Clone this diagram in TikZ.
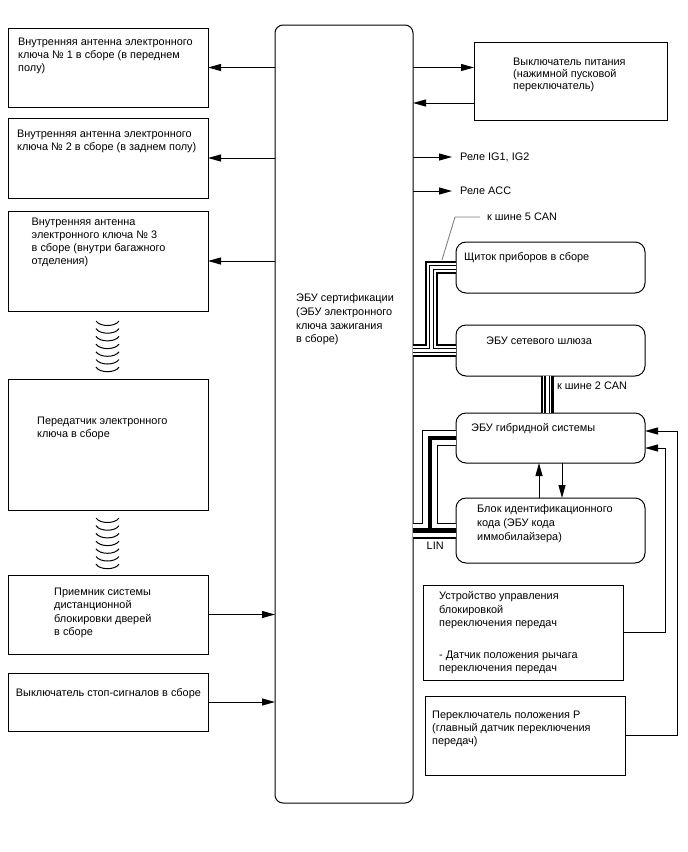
\documentclass[tikz,border=0pt]{standalone}
\usepackage{fontspec}
\setmainfont{Liberation Sans}
\usetikzlibrary{arrows.meta}

\tikzset{
  box/.style={draw, line width=1pt, inner sep=0, outer sep=0, anchor=north west},
  rbox/.style={box, rounded corners=10pt},
  txt/.style={inner sep=0, anchor=north west, align=left},
  lbl/.style={inner sep=0, anchor=west},
  arr/.style={line width=1pt, -{Triangle[length=13pt,width=7pt]}},
  leader/.style={gray, line width=0.9pt},
  canA/.style={line width=13pt},
  canB/.style={line width=8.5pt, white},
  canC/.style={line width=5.5pt},
  canD/.style={line width=3pt, white},
  linA/.style={line width=16pt},
  linB/.style={line width=13.5pt, white},
  linC/.style={line width=4.5pt}
}

\begin{document}
\begin{tikzpicture}[x=1pt,y=-1pt,font=\fontsize{10.9}{13.3}\selectfont]
\useasboundingbox (0,0) rectangle (688,852);

% left column
\node[box, minimum width=200pt, minimum height=79pt] (ant1) at (8,28) {};
\node[box, minimum width=200pt, minimum height=80pt] (ant2) at (8,118) {};
\node[box, minimum width=200pt, minimum height=100pt] (ant3) at (8,211) {};
\node[box, minimum width=200pt, minimum height=131pt] (tx) at (8,379) {};
\node[box, minimum width=200pt, minimum height=79pt] (rcv) at (8,575) {};
\node[box, minimum width=200pt, minimum height=58pt] (stp) at (8,673) {};

\node[txt] (ant1t) at (18,37.3) {Внутренняя антенна электронного\\ключа № 1 в сборе (в переднем\\полу)};
\node[txt] (ant2t) at (17,129.6) {Внутренняя антенна электронного\\ключа № 2 в сборе (в заднем полу)};
\node[txt] (ant3t) at (31.5,217.3) {Внутренняя антенна\\электронного ключа № 3\\в сборе (внутри багажного\\отделения)};
\node[txt] (txt) at (37,416.6) {Передатчик электронного\\ключа в сборе};
\node[txt] (rcvt) at (54,587.9) {Приемник системы\\дистанционной\\блокировки дверей\\в сборе};
\node[txt] (stpt) at (15.7,687.9) {Выключатель стоп-сигналов в сборе};

% radio links
\foreach \i in {0,...,6} {
  \draw[line width=1pt] (96,{321+7.7*\i}) .. controls (100,{327+7.7*\i}) and (115,{327+7.7*\i}) .. (119,{321+7.7*\i});
  \draw[line width=1pt] (96,{518+7.7*\i}) .. controls (100,{524+7.7*\i}) and (115,{524+7.7*\i}) .. (119,{518+7.7*\i});
}

% certification ECU
\node[box, rounded corners=8pt, minimum width=138pt, minimum height=778pt] (ecu) at (275,25) {};
\node[txt, font=\fontsize{10.9}{13.7}\selectfont] (ecut) at (296,293.6) {ЭБУ сертификации\\(ЭБУ электронного\\ключа зажигания\\в сборе)};

% right column
\node[box, minimum width=193pt, minimum height=78pt] (pwr) at (474,42) {};
\node[txt, font=\fontsize{10.9}{12.2}\selectfont] (pwrt) at (513,57.3) {Выключатель питания\\(нажимной пусковой\\переключатель)};
\node[lbl] (rel1) at (460,157) {Реле IG1, IG2};
\node[lbl] (rel2) at (460,191) {Реле ACC};
\node[lbl] (can5) at (487,217) {к шине 5 CAN};
\node[rbox, minimum width=189pt, minimum height=51pt] (cl) at (456,242) {};
\node[txt] (clt) at (464,252.6) {Щиток приборов в сборе};
\node[rbox, minimum width=189pt, minimum height=51pt] (gw) at (456,325) {};
\node[txt] (gwt) at (486,336.6) {ЭБУ сетевого шлюза};
\node[lbl] (can2) at (557,386) {к шине 2 CAN};
\node[rbox, minimum width=189pt, minimum height=50pt] (hyb) at (456,413) {};
\node[txt] (hybt) at (471,423.6) {ЭБУ гибридной системы};
\node[rbox, minimum width=189pt, minimum height=65pt] (imm) at (456,498) {};
\node[txt, font=\fontsize{10.9}{14}\selectfont] (immt) at (477,504.6) {Блок идентификационного\\кода (ЭБУ кода\\иммобилайзера)};
\node[lbl] (lin) at (426.5,546) {LIN};
\node[box, minimum width=200pt, minimum height=95pt] (slk) at (423,585) {};
\node[txt] (slkt) at (439,591.6) {Устройство управления\\блокировкой\\переключения передач\\[5pt]\\- Датчик положения рычага\\переключения передач};
\node[box, minimum width=200pt, minimum height=79pt] (psw) at (425,696) {};
\node[txt] (pswt) at (432,710.6) {Переключатель положения P\\(главный датчик переключения\\передач)};

% buses
\coordinate (canj) at (431.5,0 |- gw.west);
\coordinate (linj) at (430,0 |- imm.west);
\coordinate (can5end) at (442,260);
\coordinate (pwrin) at ([yshift=-22pt]pwr.west);
\foreach \s in {canA,canB,canC,canD}
  \draw[\s] (ecu.east |- gw.west) -- (gw.west)
            (canj) |- (cl.west)
            ([xshift=-3.5pt]gw.south) -- ([xshift=-3.5pt]hyb.north);
\foreach \s in {linA,linB,linC}
  \draw[\s] (ecu.east |- imm.west) -- (imm.west)
            (linj) |- (hyb.west);
\draw[leader] ([xshift=-7pt]can5.west) -- ++(-25,0) -- (can5end);

% signals
\draw[arr] (ecu.west |- ant1.east) -- (ant1.east);
\draw[arr] (ecu.west |- ant2.east) -- (ant2.east);
\draw[arr] (ecu.west |- ant3.east) -- (ant3.east);
\draw[arr] (rcv.east) -- (ecu.west |- rcv.east);
\draw[arr] (stp.east) -- (ecu.west |- stp.east);
\draw[arr] (ecu.east |- ant1.east) -- (pwr.west |- ant1.east);
\draw[arr] (pwrin) -- (ecu.east |- pwrin);
\draw[arr] (ecu.east |- rel1.west) -- ([xshift=-8pt]rel1.west);
\draw[arr] (ecu.east |- rel2.west) -- ([xshift=-8pt]rel2.west);
\draw[arr] ([xshift=-11.5pt]imm.north) -- ([xshift=-11.5pt]hyb.south);
\draw[arr] ([xshift=11.5pt]hyb.south) -- ([xshift=11.5pt]imm.north);
\draw[arr] (psw.east) -- ++(52,0) |- ([yshift=7pt]hyb.east);
\draw[arr] (slk.east) -- ++(42,0) |- ([yshift=-10pt]hyb.east);
\end{tikzpicture}
\end{document}
